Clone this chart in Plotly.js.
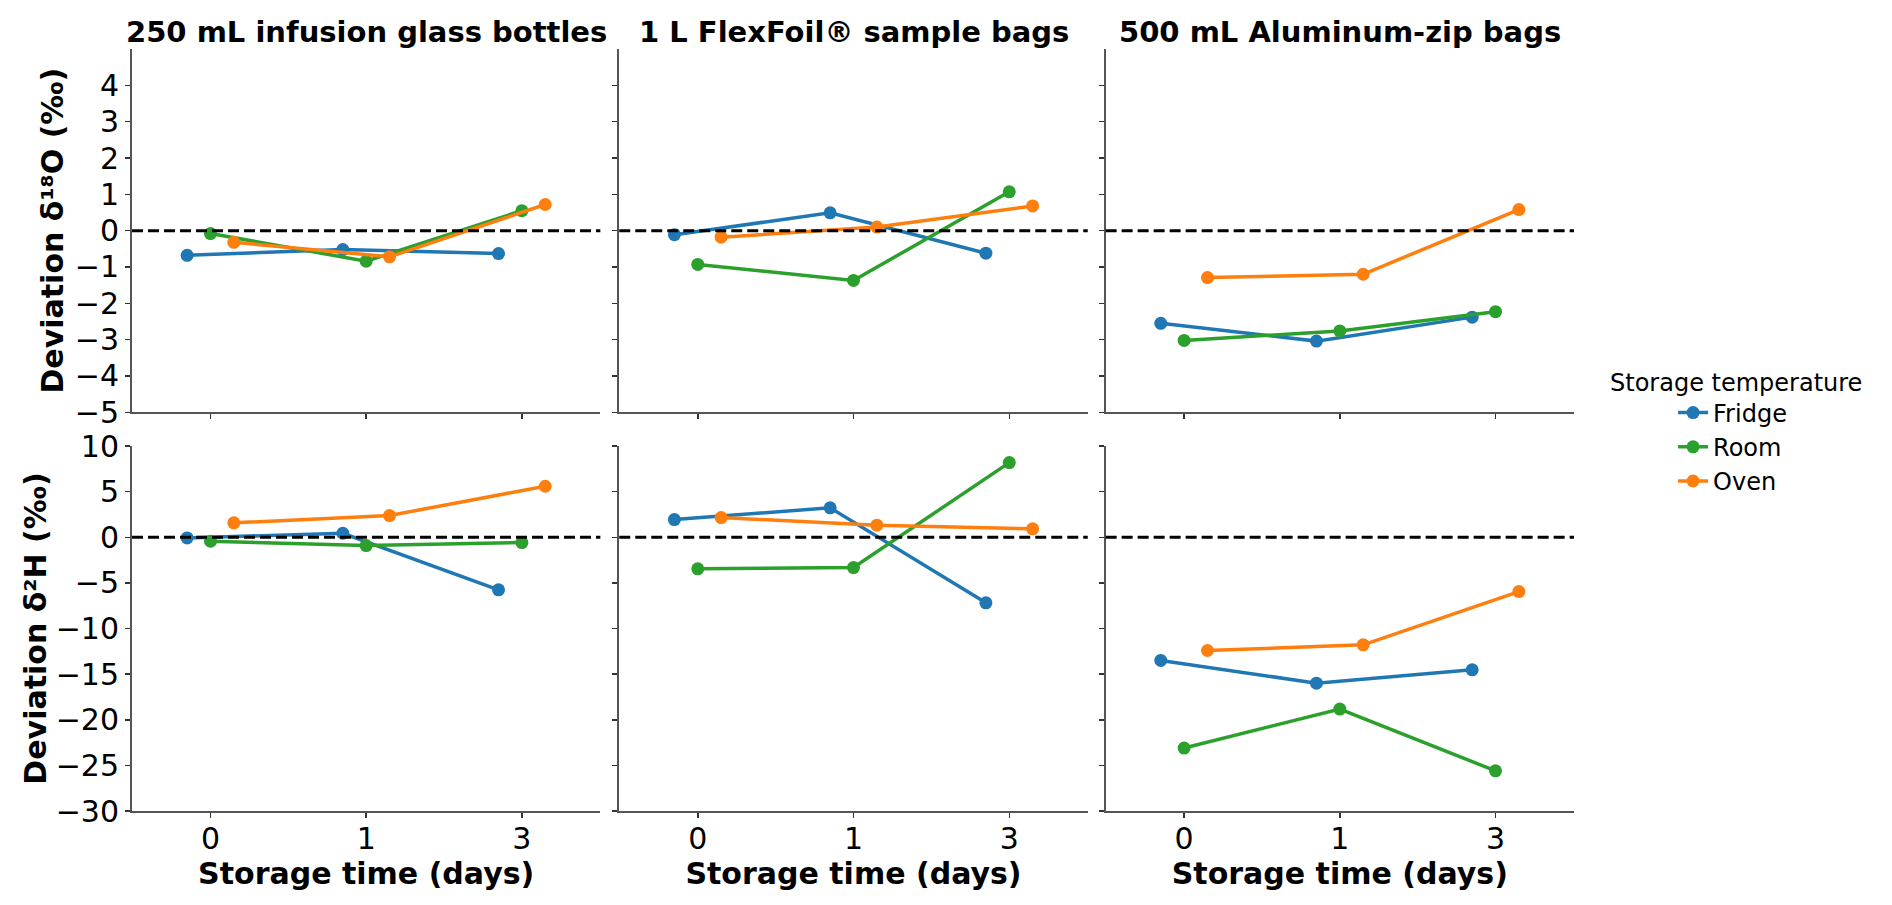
<!DOCTYPE html>
<html><head><meta charset="utf-8">
<script src="https://cdn.plot.ly/plotly-3.0.1.min.js"></script>
<style>html,body{margin:0;padding:0;background:#fff}#chart{width:1892px;height:905px}</style>
</head><body><div id="chart"></div>
<script>
// Categories
const days = ['0', '1', '3'];
const conditions = ['Fridge', 'Room', 'Oven'];
const containers = ['250 mL infusion glass bottles', '1 L FlexFoil® sample bags', '500 mL Aluminum-zip bags'];
const rowTitles = ['Deviation δ¹⁸O (‰)', 'Deviation δ²H (‰)'];
const xTitle = 'Storage time (days)';
const legendTitle = 'Storage temperature';

// δ18O deviations (‰)
const o18_glass_fridge = [-0.68, -0.52, -0.63];
const o18_glass_room   = [-0.08, -0.84, 0.55];
const o18_glass_oven   = [-0.32, -0.72, 0.72];
const o18_foil_fridge  = [-0.11, 0.49, -0.62];
const o18_foil_room    = [-0.93, -1.37, 1.07];
const o18_foil_oven    = [-0.18, 0.10, 0.68];
const o18_alu_fridge   = [-2.55, -3.04, -2.38];
const o18_alu_room     = [-3.02, -2.76, -2.23];
const o18_alu_oven     = [-1.29, -1.20, 0.58];

// δ2H deviations (‰)
const h2_glass_fridge = [-0.07, 0.44, -5.76];
const h2_glass_room   = [-0.44, -0.91, -0.58];
const h2_glass_oven   = [1.58, 2.38, 5.59];
const h2_foil_fridge  = [1.94, 3.22, -7.19];
const h2_foil_room    = [-3.46, -3.32, 8.18];
const h2_foil_oven    = [2.16, 1.32, 0.92];
const h2_alu_fridge   = [-13.5, -15.99, -14.53];
const h2_alu_room     = [-23.1, -18.83, -25.6];
const h2_alu_oven     = [-12.41, -11.79, -5.95];

// Y tick labels
const o18Ticks = [-5, -4, -3, -2, -1, 0, 1, 2, 3, 4];
const h2Ticks = [-30, -25, -20, -15, -10, -5, 0, 5, 10];

const data = [
  [[o18_glass_fridge, o18_glass_room, o18_glass_oven],
   [o18_foil_fridge, o18_foil_room, o18_foil_oven],
   [o18_alu_fridge, o18_alu_room, o18_alu_oven]],
  [[h2_glass_fridge, h2_glass_room, h2_glass_oven],
   [h2_foil_fridge, h2_foil_room, h2_foil_oven],
   [h2_alu_fridge, h2_alu_room, h2_alu_oven]]
];

const colors = ['#1f77b4', '#2ca02c', '#ff7f0e'];
const dodge = [-0.15, 0, 0.15];
const FONT = 'DejaVu Sans, sans-serif';

const xDomains = [[0, 0.3248], [0.3379, 0.6628], [0.6752, 1.0]];
const yDomains = [[0.5232, 1.0], [0, 0.4790]];
const yRanges = [[-5, 5], [-30, 10]];
const yTicks = [o18Ticks, h2Ticks];
const yStandoff = [2, 0];

const traces = [];
const layout = {
  width: 1892, height: 905,
  margin: {l: 132, r: 318, t: 49, b: 94},
  paper_bgcolor: '#fff', plot_bgcolor: '#fff',
  font: {family: FONT, color: '#000', size: 24},
  showlegend: true,
  legend: {
    x: 1.0687, xanchor: 'left', y: 0.4777, yanchor: 'middle',
    font: {size: 24, family: FONT},
    tracegroupgap: 0, itemwidth: 30, bgcolor: 'rgba(0,0,0,0)'
  },
  shapes: [],
  annotations: [{
    text: legendTitle, xref: 'paper', yref: 'paper',
    x: 1.1123, y: 0.5617, xanchor: 'center', yanchor: 'middle',
    showarrow: false, font: {size: 24, family: FONT, color: '#000'}
  }]
};

for (let r = 0; r < 2; r++) {
  for (let c = 0; c < 3; c++) {
    const idx = r * 3 + c + 1;
    const xa = idx === 1 ? 'x' : 'x' + idx;
    const ya = idx === 1 ? 'y' : 'y' + idx;
    for (let k = 0; k < 3; k++) {
      traces.push({
        type: 'scatter', mode: 'lines+markers',
        x: days.map((d, i) => i + dodge[k]),
        y: data[r][c][k],
        name: conditions[k], legendgroup: conditions[k],
        showlegend: idx === 1,
        xaxis: xa, yaxis: ya,
        line: {color: colors[k], width: 3.5},
        marker: {color: colors[k], size: 13},
        cliponaxis: false
      });
    }
    layout['xaxis' + (idx === 1 ? '' : idx)] = {
      domain: xDomains[c], anchor: ya,
      range: [-0.504, 2.504],
      tickmode: 'array', tickvals: days.map((d, i) => i), ticktext: days,
      showticklabels: r === 1,
      ticks: 'outside', ticklen: 5, tickwidth: 1.5, tickcolor: '#333',
      ticklabelstandoff: -5,
      tickfont: {size: 30, family: FONT, color: '#000'},
      showline: true, linecolor: '#555', linewidth: 2,
      showgrid: false, zeroline: false, fixedrange: true,
      title: r === 1 ? {text: xTitle, font: {size: 30, family: FONT, color: '#000', weight: 'bold'}, standoff: 0} : {text: ''}
    };
    layout['yaxis' + (idx === 1 ? '' : idx)] = {
      domain: yDomains[r], anchor: xa,
      range: yRanges[r],
      tickmode: 'array', tickvals: yTicks[r], ticktext: yTicks[r].map(v => v < 0 ? '−' + Math.abs(v) : String(v)),
      showticklabels: c === 0,
      ticks: 'outside', ticklen: 5, tickwidth: 1.5, tickcolor: '#333',
      tickfont: {size: 30, family: FONT, color: '#000'},
      showline: true, linecolor: '#555', linewidth: 2,
      showgrid: false, zeroline: false, fixedrange: true,
      title: c === 0 ? {text: rowTitles[r], font: {size: 30, family: FONT, color: '#000', weight: 'bold'}, standoff: yStandoff[r]} : {text: ''}
    };
    layout.shapes.push({
      type: 'line', xref: xa + ' domain', yref: ya,
      x0: 0, x1: 1, y0: 0, y1: 0,
      line: {color: '#000', width: 3, dash: '11px,5px'}, layer: 'above'
    });
    if (r === 0) {
      layout.annotations.push({
        text: containers[c], xref: xa + ' domain', yref: ya + ' domain',
        x: 0.5, y: 1, xanchor: 'center', yanchor: 'bottom', yshift: -2,
        showarrow: false, font: {size: 29, family: FONT, color: '#000', weight: 'bold'}
      });
    }
  }
}

Plotly.newPlot('chart', traces, layout, {displayModeBar: false, staticPlot: true});
</script>
</body></html>
